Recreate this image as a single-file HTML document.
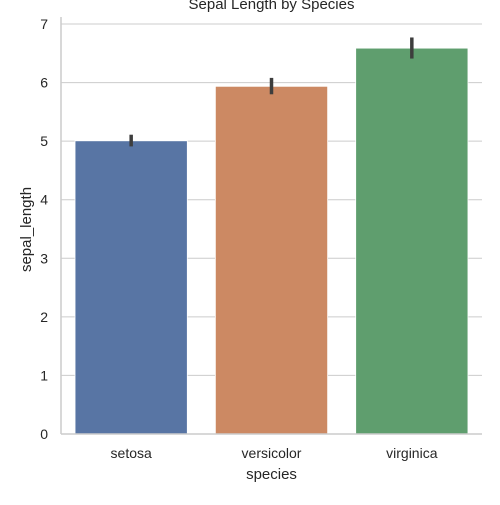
<!DOCTYPE html>
<html><head><style>
body{margin:0;background:#fff}
svg text{font-family:"Liberation Sans","DejaVu Sans",sans-serif;fill:#262626}
</style></head><body>
<svg width="500" height="500">
<g id="g"></g>
</svg>
<script>
const categories=["setosa","versicolor","virginica"];
const means=[5.006,5.936,6.588];
const ciLow=[4.91,5.80,6.41];
const ciHigh=[5.11,6.08,6.77];
const yTicks=[0,1,2,3,4,5,6,7];
const colors=["#5875a4","#cc8963","#5f9e6e"];
const L=61,R=482,T=17,B=434,Y0=434,Y7=24;
const y=v=>Y0-(Y0-Y7)*v/7;
const bw=(R-L)/categories.length;
const x=i=>L+bw*(i+0.5);
const g=document.getElementById('g');
const NS="http://www.w3.org/2000/svg";
function mk(t,a,txt){const e=document.createElementNS(NS,t);for(const k in a)e.setAttribute(k,a[k]);if(txt!==undefined)e.textContent=txt;g.appendChild(e);return e;}
yTicks.forEach(v=>{
 const l=mk('line',{x1:L,x2:R,y1:y(v),y2:y(v),stroke:'#cccccc','stroke-width':1});
 
 
 const t=mk('text',{x:L-13,y:y(v)+5,'text-anchor':'end','font-size':14},String(v));
 
 
});
categories.forEach((c,i)=>{
 const w=bw*0.8;
 const r=mk('rect',{x:x(i)-w/2,y:y(means[i]),width:w,height:Y0-y(means[i]),fill:colors[i],stroke:'#ffffff','stroke-width':0.8});
 
 
 const e=mk('line',{x1:x(i),x2:x(i),y1:y(ciLow[i]),y2:y(ciHigh[i]),stroke:'#3d3d3d','stroke-width':3.5});
 
 
 const t=mk('text',{x:x(i),y:458,'text-anchor':'middle','font-size':14},c);
 
 
});
const ls=mk('line',{x1:L,x2:L,y1:T,y2:B,stroke:'#cccccc','stroke-width':1.5});


const bs=mk('line',{x1:L,x2:R,y1:B,y2:B,stroke:'#cccccc','stroke-width':1.5});


const xt=mk('text',{x:(L+R)/2,y:479,'text-anchor':'middle','font-size':15},'species');


const yt=mk('text',{x:0,y:0,'text-anchor':'middle','font-size':15,transform:`translate(31,${(T+B)/2+4}) rotate(-90)`},'sepal_length');


const tt=mk('text',{x:(L+R)/2,y:9,'text-anchor':'middle','font-size':15},'Sepal Length by Species');


</script>
</body></html>
